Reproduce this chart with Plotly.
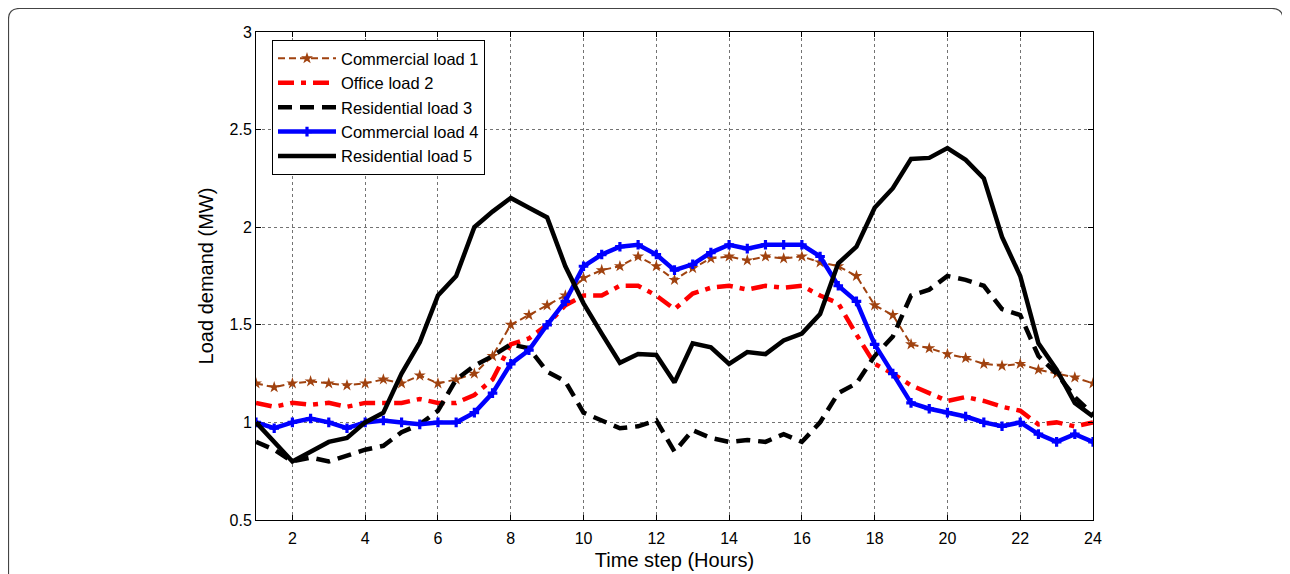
import plotly.graph_objects as go

hours = [1 + 0.5 * i for i in range(47)]

commercial_1 = [1.20, 1.18, 1.20, 1.21, 1.20, 1.19, 1.20, 1.22, 1.20, 1.24,
                1.20, 1.22, 1.25, 1.34, 1.50, 1.55, 1.60, 1.65, 1.74, 1.78,
                1.80, 1.85, 1.80, 1.73, 1.79, 1.84, 1.85, 1.83, 1.85, 1.84,
                1.85, 1.82, 1.80, 1.75, 1.60, 1.55, 1.40, 1.38, 1.35, 1.33,
                1.30, 1.29, 1.30, 1.27, 1.25, 1.23, 1.20]
office_2 = [1.10, 1.08, 1.10, 1.09, 1.10, 1.08, 1.10, 1.10, 1.10, 1.12,
            1.10, 1.10, 1.14, 1.22, 1.40, 1.43, 1.50, 1.60, 1.65, 1.65,
            1.70, 1.70, 1.65, 1.58, 1.66, 1.69, 1.70, 1.68, 1.70, 1.69,
            1.70, 1.65, 1.61, 1.45, 1.30, 1.25, 1.19, 1.15, 1.11, 1.13,
            1.11, 1.08, 1.06, 0.99, 1.00, 0.98, 1.00]
residential_3 = [0.90, 0.86, 0.80, 0.82, 0.80, 0.83, 0.86, 0.88, 0.95, 0.99,
                 1.06, 1.22, 1.29, 1.34, 1.40, 1.38, 1.26, 1.21, 1.05, 1.01,
                 0.97, 0.98, 1.01, 0.85, 0.96, 0.92, 0.90, 0.91, 0.90, 0.94,
                 0.90, 1.00, 1.15, 1.20, 1.34, 1.44, 1.65, 1.68, 1.75, 1.73,
                 1.70, 1.58, 1.55, 1.34, 1.25, 1.13, 1.04]
commercial_4 = [1.00, 0.97, 1.00, 1.02, 1.00, 0.97, 1.00, 1.01, 1.00, 0.99,
                1.00, 1.00, 1.05, 1.15, 1.30, 1.37, 1.50, 1.62, 1.80, 1.86,
                1.90, 1.91, 1.86, 1.78, 1.81, 1.87, 1.91, 1.89, 1.91, 1.91,
                1.91, 1.85, 1.70, 1.62, 1.40, 1.25, 1.10, 1.07, 1.05, 1.03,
                1.00, 0.98, 1.00, 0.94, 0.90, 0.94, 0.90]
residential_5 = [1.00, 0.90, 0.80, 0.85, 0.90, 0.92, 1.00, 1.05, 1.25, 1.41,
                 1.65, 1.75, 2.00, 2.08, 2.15, 2.10, 2.05, 1.80, 1.61, 1.455,
                 1.305, 1.35, 1.345, 1.205, 1.405, 1.385, 1.30, 1.36, 1.35, 1.42,
                 1.455, 1.555, 1.815, 1.90, 2.10, 2.20, 2.35, 2.355, 2.405, 2.345,
                 2.25, 1.95, 1.75, 1.405, 1.27, 1.10, 1.03]

x_ticks = list(range(2, 25, 2))
y_ticks = [0.5, 1, 1.5, 2, 2.5, 3]
y_tick_labels = ["0.5", "1", "1.5", "2", "2.5", "3"]

FONT = "Liberation Sans, Arial, sans-serif"

fig = go.Figure()
fig.add_trace(go.Scatter(
    x=hours, y=commercial_1, name="Commercial load 1", mode="lines+markers",
    line=dict(color="#A0420F", width=2, dash="7px,4px"),
    marker=dict(symbol="star", size=9, color="#A0420F")))
fig.add_trace(go.Scatter(
    x=hours, y=office_2, name="Office load 2", mode="lines",
    line=dict(color="#FF0000", width=4.5, dash="16px,7px,5px,7px")))
fig.add_trace(go.Scatter(
    x=hours, y=residential_3, name="Residential load 3", mode="lines",
    line=dict(color="#000000", width=4.5, dash="14px,8px")))
fig.add_trace(go.Scatter(
    x=hours, y=commercial_4, name="Commercial load 4", mode="lines+markers",
    line=dict(color="#0000FF", width=4.5),
    marker=dict(symbol="cross", size=8, color="#0000FF")))
fig.add_trace(go.Scatter(
    x=hours, y=residential_5, name="Residential load 5", mode="lines",
    line=dict(color="#000000", width=4.5)))

# the page body adds an 8px offset; figure coordinates = screen - 8
OFF = 8
W, H = 1290 - OFF, 574 - OFF
L = 256 - OFF
T = 32 - OFF
R = W - (1093 - OFF)
B = H - (520 - OFF)
pw = W - L - R
ph = H - T - B

def px(xs):
    return (xs - OFF - L) / pw

def py(ys):
    return (H - B - (ys - OFF)) / ph

# rounded outer frame (top corners rounded, bottom cut off)
x0, x1 = (0.5 - L) / pw, px(1283)
ytop, ybot = (H - B - 0.5) / ph, py(600)
rx = 11 / pw
ry = 11 / ph
path = (f"M {x0},{ybot} L {x0},{ytop - ry} Q {x0},{ytop} {x0 + rx},{ytop} "
        f"L {x1 - rx},{ytop} Q {x1},{ytop} {x1},{ytop - ry} L {x1},{ybot}")
fig.add_shape(type="path", path=path, xref="paper", yref="paper",
              line=dict(color="#444444", width=1.2), layer="below")

axis_common = dict(
    showline=True, linecolor="black", linewidth=1, mirror="allticks",
    ticks="inside", ticklen=5, tickcolor="black", automargin=False,
    showgrid=True, gridcolor="rgba(0,0,0,0.55)", griddash="dot", gridwidth=1,
    zeroline=False, tickfont=dict(family=FONT, size=16, color="black"),
)

fig.update_layout(
    width=W, height=H,
    margin=dict(l=L, r=R, t=T, b=B),
    paper_bgcolor="white", plot_bgcolor="white",
    font=dict(family=FONT, color="black"),
    xaxis=dict(range=[1, 24], tickvals=x_ticks, ticklabelstandoff=4,
               title=dict(text="Time step (Hours)", font=dict(family=FONT, size=20), standoff=6),
               **axis_common),
    yaxis=dict(range=[0.5, 3], tickvals=y_ticks, ticktext=y_tick_labels,
               title=dict(text="Load demand (MW)", font=dict(family=FONT, size=20), standoff=10),
               **axis_common),
    legend=dict(x=px(272), y=py(40), xanchor="left", yanchor="top",
                bgcolor="white", bordercolor="black", borderwidth=1,
                font=dict(family=FONT, size=16.5), tracegroupgap=0, itemwidth=58),
    showlegend=True,
)

fig.write_html("out.html")
